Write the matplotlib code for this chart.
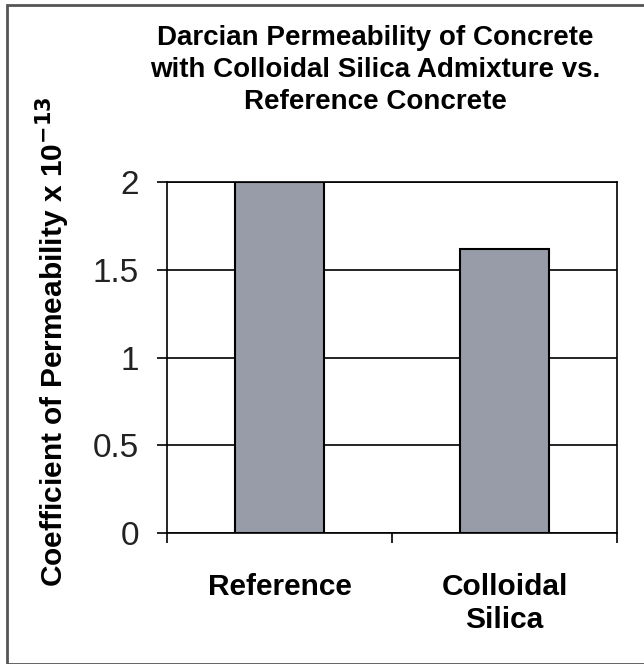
import matplotlib
matplotlib.use("Agg")
import matplotlib.pyplot as plt
from matplotlib.patches import Rectangle

categories = ["Reference", "Colloidal\nSilica"]
values = [2.0, 1.62]
yticks = [0, 0.5, 1, 1.5, 2]
ytick_labels = ["0", "0.5", "1", "1.5", "2"]

plt.rcParams['font.family'] = ['Liberation Sans', 'DejaVu Sans']

W, H = 644, 664
fig = plt.figure(figsize=(W / 100, H / 100), dpi=100)

# outer frame
fig.patches.append(Rectangle((7 / W, 0), 2, 1 - 5 / H, transform=fig.transFigure,
                             fill=False, edgecolor='#555555', linewidth=2))

ax = fig.add_axes([167 / W, 1 - 533 / H, 450 / W, 351 / H])
x = list(range(len(categories)))
ax.bar(x, values, width=0.395, color='#979CA8', edgecolor='black', linewidth=1.5, zorder=3)
ax.set_xlim(-0.5, 1.5)
ax.set_ylim(0, 2)
ax.set_yticks(yticks)
ax.set_yticklabels(ytick_labels, fontsize=24, color='#222222')
ax.yaxis.grid(True, color='black', linewidth=1.2, zorder=0)
ax.set_axisbelow(True)
ax.tick_params(axis='y', direction='out', length=7.2, width=1.2, pad=13)
ax.set_xticks(x)
ax.set_xticklabels(categories, fontsize=21.5, fontweight='bold', linespacing=1.2)
ax.tick_params(axis='x', which='major', length=0, pad=29)
ax.set_xticks([-0.5, 0.5, 1.5], minor=True)
ax.tick_params(axis='x', which='minor', direction='out', length=7.2, width=1.2)
for s in ax.spines.values():
    s.set_linewidth(1.2)
    s.set_color('black')

ax.set_ylabel(r"Coefficient of Permeability x 10$^{\mathbf{-13}}$", fontsize=21.5,
              fontweight='bold')
ax.yaxis.set_label_coords(-0.211, 0.544)

fig.text(375 / W, 1 - 70 / H,
         "Darcian Permeability of Concrete\nwith Colloidal Silica Admixture vs.\nReference Concrete",
         ha='center', va='center', fontsize=20, fontweight='bold', linespacing=1.31)

fig.savefig("out.png", dpi=100)
